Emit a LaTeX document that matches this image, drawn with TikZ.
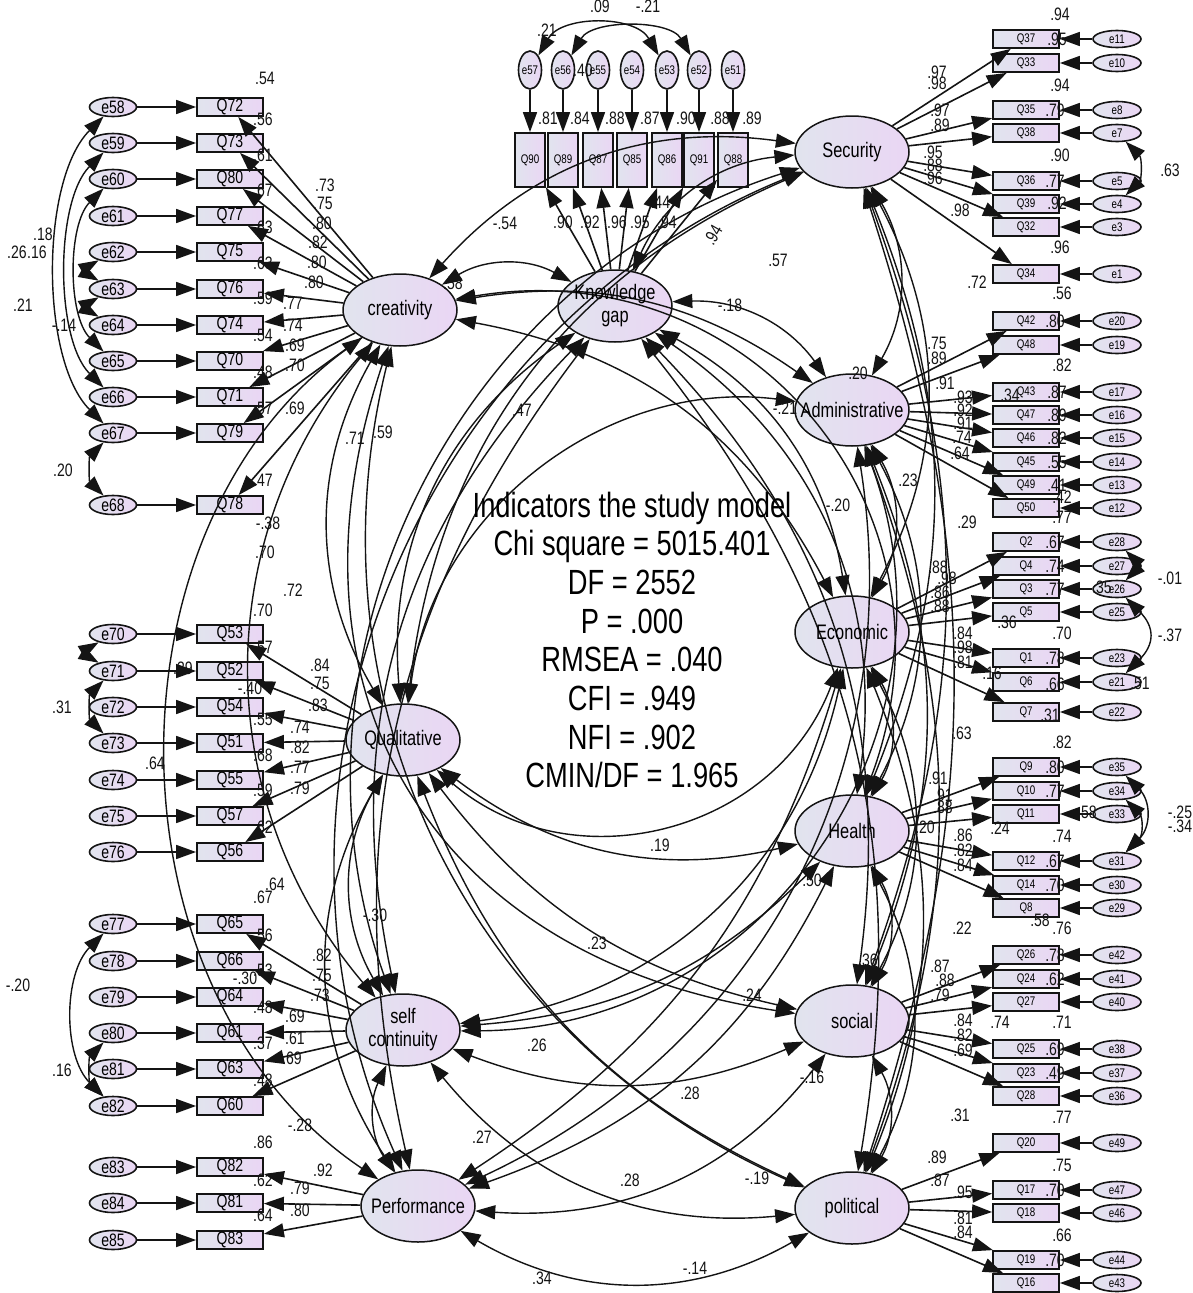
\documentclass[tikz,border=0pt]{standalone}
\usepackage{fontspec}
\setmainfont{Liberation Sans}[FakeStretch=0.78]
\usetikzlibrary{shapes.geometric,arrows.meta}
\definecolor{gl}{RGB}{225,228,238}
\definecolor{pu}{RGB}{234,214,244}
\definecolor{ln}{RGB}{20,20,20}
\newcommand\fLat{\fontsize{21}{23}\selectfont}
\newcommand\fBg{\fontsize{18}{19}\selectfont}
\newcommand\fSm{\fontsize{12.5}{13}\selectfont}
\newcommand\fNm{\fontsize{18}{19}\selectfont}
\newcommand\fCn{\fontsize{35}{38.7}\selectfont}
\tikzset{
 bigtip/.tip={Triangle[length=20pt,width=14pt]},
 lat/.style={ellipse,draw=ln,line width=1.5pt,left color=gl,right color=pu,minimum width=114pt,minimum height=72pt,inner sep=0pt},
 lattxt/.style={font=\fLat,align=center,inner sep=0pt},
 lbox/.style={rectangle,draw=ln,line width=1.8pt,left color=gl,right color=pu,minimum width=66pt,minimum height=18pt,inner sep=0pt,font=\fBg},
 rbox/.style={lbox,font=\fSm},
 tbox/.style={lbox,minimum width=30pt,minimum height=54pt,font=\fSm},
 lerr/.style={ellipse,draw=ln,line width=1.6pt,left color=gl,right color=pu,minimum width=47pt,minimum height=19pt,inner sep=0pt,font=\fBg},
 rerr/.style={lerr,minimum width=48pt,minimum height=17pt,font=\fSm},
 terr/.style={lerr,minimum width=23pt,minimum height=38pt,font=\fSm},
 arr/.style={draw=ln,line width=1.6pt,-bigtip},
 cov/.style={draw=ln,line width=1.4pt,bigtip-bigtip},
 lab/.style={font=\fNm,inner sep=0pt,text=ln}
}
\def\LL{cre/Q72/e58/107,cre/Q73/e59/143,cre/Q80/e60/179,cre/Q77/e61/216,cre/Q75/e62/252,cre/Q76/e63/289,cre/Q74/e64/325,cre/Q70/e65/361,cre/Q71/e66/397,cre/Q79/e67/433,cre/Q78/e68/505,
qua/Q53/e70/634,qua/Q52/e71/671,qua/Q54/e72/707,qua/Q51/e73/743,qua/Q55/e74/780,qua/Q57/e75/816,qua/Q56/e76/852,
sel/Q65/e77/924,sel/Q66/e78/961,sel/Q64/e79/997,sel/Q61/e80/1033,sel/Q63/e81/1069,sel/Q60/e82/1106,
per/Q82/e83/1167,per/Q81/e84/1203,per/Q83/e85/1240}
\def\RL{sec/Q37/e11/39,sec/Q33/e10/63,sec/Q35/e8/110,sec/Q38/e7/133,sec/Q36/e5/181,sec/Q39/e4/204,sec/Q32/e3/227,sec/Q34/e1/274,
adm/Q42/e20/321,adm/Q48/e19/345,adm/Q43/e17/392,adm/Q47/e16/415,adm/Q46/e15/438,adm/Q45/e14/462,adm/Q49/e13/485,adm/Q50/e12/508,
eco/Q2/e28/542,eco/Q4/e27/566,eco/Q3/e26/589,eco/Q5/e25/612,eco/Q1/e23/658,eco/Q6/e21/682,eco/Q7/e22/712,
hea/Q9/e35/767,hea/Q10/e34/791,hea/Q11/e33/814,hea/Q12/e31/861,hea/Q14/e30/885,hea/Q8/e29/908,
soc/Q26/e42/955,soc/Q24/e41/979,soc/Q27/e40/1002,soc/Q25/e38/1049,soc/Q23/e37/1073,soc/Q28/e36/1096,
pol/Q20/e49/1143,pol/Q17/e47/1190,pol/Q18/e46/1213,pol/Q19/e44/1260,pol/Q16/e43/1283}
\def\TL{kg/Q90/e57/530,kg/Q89/e56/563,kg/Q87/e55/598,kg/Q85/e54/632,kg/Q86/e53/667,kg/Q91/e52/699,kg/Q88/e51/733}
\def\CV{kg/sec/30/1,sec/adm/30/1,adm/eco/30/1,eco/hea/30/1,hea/soc/30/1,soc/pol/30/1,pol/per/30/1,per/sel/30/1,sel/qua/30/1,qua/cre/30/1,cre/kg/30/1,
kg/adm/28/1,sec/eco/28/1,adm/hea/28/1,eco/soc/28/1,hea/pol/28/1,soc/per/28/1,pol/sel/28/1,per/qua/32/1,sel/cre/40/1,qua/kg/30/1,cre/sec/28/1,
kg/eco/26/1,sec/hea/22/1,adm/soc/22/1,eco/pol/22/1,hea/per/22/1,soc/sel/22/1,pol/qua/22/1,per/cre/55/1,sel/kg/28/1,qua/sec/30/1,cre/adm/22/1,
kg/hea/32/1,sec/soc/20/1,adm/pol/20/1,eco/per/20/1,hea/sel/20/1,soc/qua/20/1,pol/cre/40/1,per/kg/25/1,sel/sec/46/1,qua/adm/45/1,cre/eco/26/1,
kg/soc/26/1,sec/pol/18/1,adm/per/37/1,eco/sel/35/1,hea/qua/25/1,soc/cre/50/1.2,kg/pol/24/1,per/sec/46/1,sel/adm/-55/1.1,qua/eco/-55/1.1,cre/hea/60/1.2}
\begin{document}
\begin{tikzpicture}[x=1pt,y=-1pt]
\useasboundingbox (0,0) rectangle (1192,1293);
\fill[white] (0,0) rectangle (1192,1293);
% latent variables
\node[lat] (cre) at (400,310) {};
\node[lat] (kg) at (615,306) {};
\node[lat] (sec) at (852,152) {};
\node[lat] (adm) at (852,410) {};
\node[lat] (eco) at (852,632) {};
\node[lat] (hea) at (852,831) {};
\node[lat] (soc) at (852,1021) {};
\node[lat] (pol) at (852,1208) {};
\node[lat] (qua) at (403,740) {};
\node[lat] (sel) at (403,1030) {};
\node[lat] (per) at (418,1206) {};
% observed and errors
\foreach \lv/\q/\e/\y in \LL {\node[lbox] (\q) at (230,\y) {\q}; \node[lerr] (\e) at (113,\y) {\e};}
\foreach \lv/\q/\e/\y in \RL {\node[rbox] (\q) at (1026,\y) {\q}; \node[rerr] (\e) at (1117,\y) {\e};}
\foreach \lv/\q/\e/\x in \TL {\node[tbox] (\q) at (\x,160) {\q}; \node[terr] (\e) at (\x,70) {\e};}
% paths
\foreach \lv/\q/\e/\y in \LL {\draw[arr] (\e) -- (\q); \draw[arr] (\lv) -- (\q);}
\foreach \lv/\q/\e/\y in \RL {\draw[arr] (\e) -- (\q); \draw[arr] (\lv) -- (\q);}
\foreach \lv/\q/\e/\x in \TL {\draw[arr] (\e) -- (\q); \draw[arr] (\lv) -- (\q);}
% latent covariances
\foreach \a/\b/\ang/\lo in \CV
  \draw[cov] (\a) to[bend left=\ang,looseness=\lo] (\b);
% error covariances
\draw[cov] (e58) to[out=225,in=135,looseness=0.75] (e67);
\draw[cov] (e59) to[out=225,in=135,looseness=0.75] (e66);
\draw[cov] (e60) to[out=225,in=135,looseness=0.8] (e65);
\draw[cov] (e62) to[out=210,in=150,looseness=1.5] (e63);
\draw[cov] (e63) to[out=210,in=150,looseness=1.5] (e64);
\draw[cov] (e67) to[out=225,in=135] (e68);
\draw[cov] (e70) to[out=210,in=150,looseness=1.5] (e71);
\draw[cov] (e71) to[out=225,in=135] (e73);
\draw[cov] (e77) to[out=225,in=135,looseness=0.9] (e82);
\draw[cov] (e80) to[out=225,in=135] (e82);
\draw[cov] (e7) to[out=-45,in=45,looseness=1.1] (e4);
\draw[cov] (e28) to[out=-45,in=45,looseness=1.6] (e26);
\draw[cov] (e26) to[out=-45,in=45,looseness=1.4] (e21);
\draw[cov] (e35) to[out=-45,in=45,looseness=1.2] (e31);
\draw[cov] (e34) to[out=-45,in=45,looseness=1.2] (e31);
\draw[cov] (e57) to[out=60,in=120,looseness=1] (e53);
\draw[cov] (e56) to[out=60,in=120,looseness=0.9] (e52);
% latent names
\node[lattxt] (creT) at (cre) {creativity};
\node[lattxt] (kgT) at (kg) {Knowledge\\gap};
\node[lattxt] (secT) at (sec) {Security};
\node[lattxt] (admT) at (adm) {Administrative};
\node[lattxt] (ecoT) at (eco) {Economic};
\node[lattxt] (heaT) at (hea) {Health};
\node[lattxt] (socT) at (soc) {social};
\node[lattxt] (polT) at (pol) {political};
\node[lattxt] (quaT) at (qua) {Qualitative};
\node[lattxt] (selT) at (sel) {self\\continuity};
\node[lattxt] (perT) at (per) {Performance};
% fit indices
\node[font=\fCn,align=center,inner sep=0pt] (stats) at (632,640) {Indicators the study model\\Chi square = 5015.401\\DF = 2552\\P = .000\\RMSEA = .040\\CFI = .949\\NFI = .902\\CMIN/DF = 1.965};
% estimates
\foreach \x/\y/\tx [count=\i] in {265/78/.54,263/119/.56,263/155/.61,263/190/.67,263/227/.63,263/263/.63,263/298/.59,263/335/.54,263/372/.48,263/408/.57,263/480/.47,
325/185/.73,323/203/.75,322/223/.80,318/242/.82,317/262/.80,314/282/.80,293/303/.77,293/325/.74,295/345/.69,295/365/.70,295/408/.69,
17/252/.26,37/252/.16,43/234/.18,23/305/.21,64/325/-.14,63/470/.20,
263/610/.70,263/647/.57,250/688/-.40,263/719/.55,263/755/.68,263/790/.59,263/827/.62,
320/665/.84,320/683/.75,318/705/.83,300/727/.74,300/747/.82,300/767/.77,300/788/.79,
183/668/.39,62/707/.31,155/763/.64,
263/897/.67,263/935/.56,263/970/.53,263/1007/.48,263/1043/.37,263/1080/.48,
322/955/.82,322/975/.75,320/995/.73,295/1016/.69,295/1038/.61,292/1058/.69,
245/978/-.30,275/884/.64,18/985/-.20,62/1070/.16,
263/1142/.86,263/1180/.62,263/1215/.64,323/1170/.92,300/1188/.79,300/1210/.80,300/1125/-.28,
548/118/.81,580/118/.84,615/118/.88,650/118/.87,686/118/.90,720/118/.88,752/118/.89,
563/222/.90,590/222/.92,617/222/.96,640/222/.95,667/222/.94,658/202/-.44,505/223/-.54,778/260/.57,730/305/-.18,522/410/.47,785/408/-.21,453/283/.58,
600/6/.09,648/6/-.21,547/30/.21,583/70/.40,
355/438/.71,383/432/.59,293/590/.72,265/552/.70,268/523/-.38,838/505/-.20,908/480/.23,375/915/-.30,660/845/.19,812/880/.50,597/943/.23,752/995/.24,868/960/.36,537/1045/.26,690/1093/.28,812/1077/-.16,482/1137/.27,630/1180/.28,757/1178/-.19,542/1278/.34,695/1268/-.14,858/373/.20,
1060/14/.94,1057/39/.95,1060/85/.94,1055/110/.79,1060/155/.90,1055/181/.77,1057/203/.92,1060/247/.96,1062/293/.56,
937/72/.97,937/83/.98,940/110/.97,940/125/.89,933/152/.95,933/165/.88,933/178/.96,960/210/.98,977/282/.72,1170/170/.63,
1055/321/.80,1062/365/.82,1057/392/.87,1057/415/.89,1057/438/.82,1057/462/.55,1057/485/.41,1062/497/.42,1010/395/.34,
937/343/.75,937/358/.89,945/383/.91,963/397/.93,963/410/.92,963/423/.91,962/437/.74,960/453/.64,967/522/.29,
1062/517/.77,1055/542/.67,1055/566/.74,1055/589/.77,1102/587/.35,1170/578/-.01,1170/635/-.37,1007/622/.36,1062/633/.70,1055/658/.78,1055/684/.66,1140/683/.51,992/673/.16,1050/715/.31,
938/567/.88,947/578/.98,940/592/.86,940/606/.88,963/633/.84,963/647/.98,963/662/.81,962/733/.63,
1062/742/.82,1055/767/.80,1055/791/.77,1087/812/.58,1062/836/.74,1055/861/.67,1055/885/.70,1040/920/.58,1062/928/.76,
938/778/.91,943/795/.91,943/807/.88,925/827/.20,963/835/.86,963/850/.82,963/865/.84,1000/828/.24,1180/812/-.25,1180/826/-.34,
962/928/.22,1055/955/.78,1055/979/.62,940/966/.87,945/980/.88,940/995/.79,1000/1022/.74,1062/1022/.71,963/1020/.84,963/1035/.82,963/1050/.69,1055/1049/.69,1055/1073/.49,960/1115/.31,1062/1117/.77,
937/1157/.89,940/1180/.87,1062/1165/.75,963/1192/.95,1055/1190/.70,963/1218/.81,963/1232/.84,1062/1235/.66,1055/1260/.70}
  \node[lab] (n\i) at (\x,\y) {\tx};
\node[lab,rotate=60] (nrot) at (713,235) {.94};
\end{tikzpicture}
\end{document}
